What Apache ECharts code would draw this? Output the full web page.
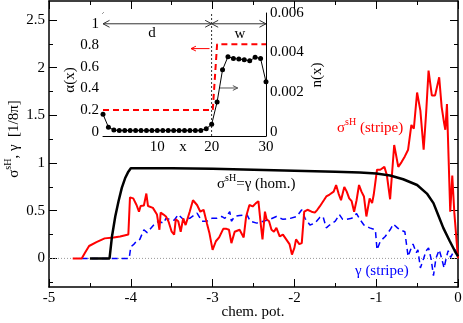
<!DOCTYPE html>
<html>
<head>
<meta charset="utf-8">
<script src="https://cdn.jsdelivr.net/npm/echarts@6/dist/echarts.min.js"></script>
<style>
    html, body { margin: 0; padding: 0; background: #fff; }
    #chart { width: 463px; height: 323px; }
</style>
</head>
<body>
<div id="chart"></div>
<script>
// ---- main panel data (chem. pot., value) ----
const sigmaHom = [
    [-4.5, 0], [-4.26, 0], [-4.23, 0.23], [-4.19, 0.44], [-4.15, 0.6], [-4.11, 0.74],
    [-4.07, 0.84], [-4.03, 0.91], [-4.0, 0.945], [-3.5, 0.945], [-3.0, 0.94], [-2.5, 0.93],
    [-2.0, 0.92], [-1.5, 0.91], [-1.2, 0.9], [-1.0, 0.89], [-0.83, 0.87], [-0.67, 0.83],
    [-0.5, 0.77], [-0.38, 0.68], [-0.3, 0.58], [-0.24, 0.45], [-0.18, 0.32], [-0.1, 0.18],
    [-0.04, 0.08], [0, 0.02],
];
const sigmaStripe = [
    [-4.71, 0], [-4.6, 0], [-4.56, 0.06], [-4.51, 0.13], [-4.42, 0.17], [-4.32, 0.21],
    [-4.21, 0.22], [-4.13, 0.23], [-4.03, 0.25], [-4.01, 0.64], [-3.97, 0.63], [-3.93, 0.56],
    [-3.9, 0.49], [-3.88, 0.55], [-3.84, 0.555], [-3.81, 0.68], [-3.79, 0.55], [-3.73, 0.53],
    [-3.68, 0.46], [-3.65, 0.3], [-3.635, 0.48], [-3.6, 0.46], [-3.57, 0.44], [-3.54, 0.39],
    [-3.5, 0.28], [-3.47, 0.25], [-3.45, 0.41], [-3.42, 0.39], [-3.39, 0.28], [-3.36, 0.42],
    [-3.33, 0.35], [-3.28, 0.49], [-3.24, 0.61], [-3.19, 0.56], [-3.15, 0.49], [-3.11, 0.51],
    [-3.07, 0.37], [-3.04, 0.27], [-3.0, 0.09], [-2.96, 0.18], [-2.92, 0.22], [-2.87, 0.31],
    [-2.83, 0.31], [-2.8, 0.3], [-2.77, 0.16], [-2.73, 0.28], [-2.67, 0.3], [-2.62, 0.22],
    [-2.59, 0.44], [-2.55, 0.56], [-2.51, 0.545], [-2.47, 0.58], [-2.44, 0.6], [-2.41, 0.35],
    [-2.39, 0.2], [-2.36, 0.49], [-2.34, 0.41], [-2.31, 0.39], [-2.28, 0.3], [-2.25, 0.28],
    [-2.22, 0.32], [-2.18, 0.23], [-2.14, 0.25], [-2.1, 0.2], [-2.06, 0.15], [-2.03, 0.04],
    [-2.0, 0.11], [-1.98, 0.2], [-1.94, 0.15], [-1.91, 0.16], [-1.88, 0.49], [-1.84, 0.51],
    [-1.79, 0.49], [-1.75, 0.48], [-1.72, 0.51], [-1.69, 0.545], [-1.67, 0.56], [-1.64, 0.61],
    [-1.61, 0.65], [-1.57, 0.67], [-1.52, 0.7], [-1.49, 0.77], [-1.46, 0.68], [-1.43, 0.61],
    [-1.39, 0.75], [-1.36, 0.7], [-1.33, 0.63], [-1.3, 0.6], [-1.27, 0.49], [-1.24, 0.61],
    [-1.21, 0.77], [-1.18, 0.7], [-1.15, 0.65], [-1.12, 0.44], [-1.08, 0.63], [-1.05, 0.58],
    [-1.03, 0.67], [-0.99, 0.93], [-0.95, 0.93], [-0.9, 0.96], [-0.87, 0.875], [-0.83, 0.62],
    [-0.78, 1.19], [-0.73, 0.96], [-0.69, 1.01], [-0.65, 1.07], [-0.61, 1.14], [-0.57, 1.4],
    [-0.54, 1.36], [-0.5, 1.74], [-0.46, 1.55], [-0.42, 1.14], [-0.39, 1.52], [-0.36, 1.97],
    [-0.32, 1.71], [-0.28, 1.71], [-0.26, 1.69], [-0.23, 1.9], [-0.2, 1.59], [-0.17, 1.42],
    [-0.155, 1.35], [-0.135, 1.62], [-0.115, 1.05], [-0.095, 0.49], [-0.07, 0.87],
    [-0.045, 0.48], [0, 0],
];
const gammaStripe = [
    [-4.6, 0], [-4.02, 0], [-4.0, 0.12], [-3.96, 0.15], [-3.93, 0.18], [-3.89, 0.2],
    [-3.84, 0.3], [-3.8, 0.27], [-3.77, 0.3], [-3.72, 0.35], [-3.66, 0.39], [-3.6, 0.37],
    [-3.57, 0.42], [-3.52, 0.41], [-3.47, 0.4], [-3.42, 0.46], [-3.36, 0.41], [-3.28, 0.42],
    [-3.19, 0.475], [-3.13, 0.39], [-3.07, 0.39], [-3.01, 0.42], [-2.95, 0.42], [-2.89, 0.44],
    [-2.85, 0.42], [-2.79, 0.49], [-2.77, 0.39], [-2.73, 0.44], [-2.67, 0.45], [-2.58, 0.46],
    [-2.54, 0.39], [-2.46, 0.37], [-2.38, 0.39], [-2.3, 0.41], [-2.22, 0.44], [-2.14, 0.41],
    [-2.05, 0.42], [-1.97, 0.44], [-1.91, 0.51], [-1.87, 0.42], [-1.81, 0.35], [-1.75, 0.37],
    [-1.69, 0.43], [-1.65, 0.44], [-1.61, 0.32], [-1.57, 0.35], [-1.5, 0.39], [-1.45, 0.46],
    [-1.41, 0.41], [-1.36, 0.41], [-1.3, 0.42], [-1.24, 0.47], [-1.2, 0.41], [-1.15, 0.35],
    [-1.08, 0.32], [-1.01, 0.3], [-0.99, 0.09], [-0.95, 0.18], [-0.89, 0.23], [-0.83, 0.3],
    [-0.79, 0.36], [-0.74, 0.32], [-0.71, 0.3], [-0.65, 0.28], [-0.61, 0.02], [-0.58, 0.09],
    [-0.55, 0.15], [-0.51, 0.06], [-0.49, 0.09], [-0.46, -0.1], [-0.42, 0.0], [-0.39, 0.08],
    [-0.36, 0.11], [-0.33, 0.0], [-0.3, -0.18], [-0.27, 0.0], [-0.23, 0.09], [-0.2, 0.0],
    [-0.17, -0.1], [-0.14, 0.02], [-0.12, 0.08], [-0.09, 0.01], [-0.06, 0.06], [-0.03, 0.09],
    [0, 0.02],
];
const zeroLine = [[-5, 0], [0, 0]];
const mainYTicks = [0, 0.5, 1, 1.5, 2, 2.5];
const mainYMinor = [-0.25, 0.25, 0.75, 1.25, 1.75, 2.25];

// ---- inset data ----
const alphaProfile = [[0, 0.2], [20.2, 0.2], [21, 0.81], [30, 0.81]];
const nProfile = [
    0.00088, 0.00023, 0.00008, 0.00006, 0.00006, 0.00006, 0.00006, 0.00006,
    0.00006, 0.00006, 0.00006, 0.00006, 0.00006, 0.00006, 0.00006, 0.00006,
    0.00006, 0.00006, 0.00006, 0.00015, 0.00037, 0.0015, 0.00313, 0.00379,
    0.0037, 0.00367, 0.00364, 0.00358, 0.00376, 0.0037, 0.00252,
];
const alphaTicks = [0, 0.2, 0.4, 0.6, 0.8, 1];
const alphaMinor = [0.1, 0.3, 0.5, 0.7, 0.9];
const nTicks = [0, 0.002, 0.004, 0.006];
const nMinor = [0.001, 0.003, 0.005];

const FONT = "'Liberation Serif', 'Times New Roman', serif";

// 坐标轴工厂
const xAx = (grid, pos, min, max, interval, showLabel, lw, tl) => ({
    type: "value", gridIndex: grid, position: pos, min, max, interval,
    splitLine: { show: false },
    axisLine: { show: true, onZero: false, lineStyle: { color: "#000", width: lw } },
    axisTick: { show: true, inside: true, length: tl, lineStyle: { color: "#000" } },
    minorTick: { show: true, splitNumber: 2, length: tl / 2, lineStyle: { color: "#000" } },
    axisLabel: {
        show: showLabel, color: "#000", fontFamily: FONT, fontSize: 15, margin: 4,
        formatter: (v) => (grid === 1 && v === 0 ? "" : String(v)),
    },
});
const yAx = (grid, pos, min, max, ticks, showLabel, lw, tl, fmt) => ({
    type: "value", gridIndex: grid, position: pos, min, max,
    splitLine: { show: false },
    axisLine: { show: lw > 0, onZero: false, lineStyle: { color: "#000", width: lw || 1 } },
    axisTick: { show: true, inside: true, length: tl, customValues: ticks, lineStyle: { color: "#000" } },
    axisLabel: {
        show: showLabel, customValues: ticks, color: "#000", fontFamily: FONT,
        fontSize: 15, margin: 4, formatter: fmt,
    },
});

const nMin = (-0.04 / 1.1) * 0.006;

// 箭头（开口的 V 形）
const chevron = (x, y, dir, dx, dy) => [[x - dir * dx, y + dy], [x, y], [x - dir * dx, y - dy]];
const lineSeries = (data, color, width, type, xi, yi, extra) => Object.assign({
    type: "line", data, xAxisIndex: xi, yAxisIndex: yi, showSymbol: false, symbol: "none",
    lineStyle: { color, width, type }, silent: true, animation: false,
}, extra || {});

const series = [
    lineSeries(zeroLine, "#999", 1, [1, 2], 0, 0),
    lineSeries(gammaStripe, "#0000ff", 1.5, [6, 4], 0, 0),
    lineSeries(sigmaStripe, "#ff0000", 2, "solid", 0, 0),
    lineSeries(sigmaHom, "#000", 2.5, "solid", 0, 0),
    // inset
    lineSeries([[20, -0.04], [20, 1.1]], "#000", 0.8, [2, 2], 2, 4),
    lineSeries([[0, 1], [30, 1]], "#333", 1, "solid", 2, 4),
    lineSeries(chevron(0, 1, -1, 1.2, 0.032), "#333", 1, "solid", 2, 4),
    lineSeries(chevron(20, 1, 1, 1.2, 0.032), "#333", 1, "solid", 2, 4),
    lineSeries(chevron(20, 1, -1, 1.2, 0.032), "#333", 1, "solid", 2, 4),
    lineSeries(chevron(30, 1, 1, 1.2, 0.032), "#333", 1, "solid", 2, 4),
    lineSeries([[19.6, 0.77], [16.2, 0.77]], "#ff0000", 1, "solid", 2, 4),
    lineSeries(chevron(16.2, 0.77, -1, 0.9, 0.022), "#ff0000", 1, "solid", 2, 4),
    lineSeries([[21.4, 0.405], [24.8, 0.405]], "#555", 1, "solid", 2, 4),
    lineSeries(chevron(24.8, 0.405, 1, 0.9, 0.022), "#555", 1, "solid", 2, 4),
    lineSeries(alphaProfile, "#ff0000", 2, [6, 4], 2, 4),
    lineSeries(nProfile.map((v, i) => [i, v]), "#000", 1, "solid", 2, 6, {
        showSymbol: true, symbol: "circle", symbolSize: 5,
        itemStyle: { color: "#000" },
    }),
];

const rich = (size) => ({
    b: { fontFamily: FONT, fontSize: size, lineHeight: 22, verticalAlign: "middle" },
    u: { fontFamily: FONT, fontSize: size - 5, lineHeight: 12, verticalAlign: "top" },
});
const txt = (x, y, text, color, opts) => Object.assign({
    type: "text", x, y, z: 100,
    style: Object.assign({
        text, fill: color, fontFamily: FONT, fontSize: 15, rich: rich(15),
        align: "left", textAlign: "left", verticalAlign: "middle", textVerticalAlign: "middle",
    }, (opts && opts.style) || {}),
}, opts && opts.rotation ? { rotation: opts.rotation } : {});
const centered = { style: { align: "center", textAlign: "center" } };
const rotated = { rotation: Math.PI / 2, style: { align: "center", textAlign: "center" } };

const chart = echarts.init(document.getElementById("chart"));
chart.setOption({
    animation: false,
    backgroundColor: "#fff",
    grid: [
        { left: 49, right: 5, top: 1, bottom: 36, outerBoundsMode: "none", containLabel: false },
        {
            left: 103, top: 13, width: 163, height: 123, outerBoundsMode: "none", containLabel: false,
            show: true, backgroundColor: "#fff", borderWidth: 0, z: 3,
        },
    ],
    xAxis: [
        xAx(0, "bottom", -5, 0, 1, true, 1.5, 8),
        xAx(0, "top", -5, 0, 1, false, 1.5, 8),
        xAx(1, "bottom", 0, 30, 10, true, 1, 6),
        xAx(1, "top", 0, 30, 10, false, 1, 6),
    ],
    yAxis: [
        yAx(0, "left", -0.3, 2.7, mainYTicks, true, 1.5, 8),
        yAx(0, "left", -0.3, 2.7, mainYMinor, false, 0, 4),
        yAx(0, "right", -0.3, 2.7, mainYTicks, false, 1.5, 8),
        yAx(0, "right", -0.3, 2.7, mainYMinor, false, 0, 4),
        yAx(1, "left", -0.04, 1.1, alphaTicks, true, 1, 6),
        yAx(1, "left", -0.04, 1.1, alphaMinor, false, 0, 3),
        yAx(1, "right", nMin, 0.006, nTicks, true, 1, 6),
        yAx(1, "right", nMin, 0.006, nMinor, false, 0, 3),
    ],
    series,
    graphic: [
        txt(337, 128, "{b|σ}{u|sH}{b| (stripe)}", "#ff0000"),
        txt(217, 184, "{b|σ}{u|sH}{b|=γ (hom.)}", "#000"),
        txt(355, 271, "γ (stripe)", "#0000ff"),
        txt(14, 139, "{b|σ}{u|sH}{b|, γ  [1/8π]}", "#000", rotated),
        txt(253, 312, "chem. pot.", "#000", centered),
        txt(70, 80, "α(x)", "#000", rotated),
        txt(317, 75, "n(x)", "#000", rotated),
        txt(183, 147, "x", "#000", centered),
        txt(152, 33, "d", "#000", centered),
        txt(240, 34, "w", "#000", centered),
    ],
});
</script>
</body>
</html>
